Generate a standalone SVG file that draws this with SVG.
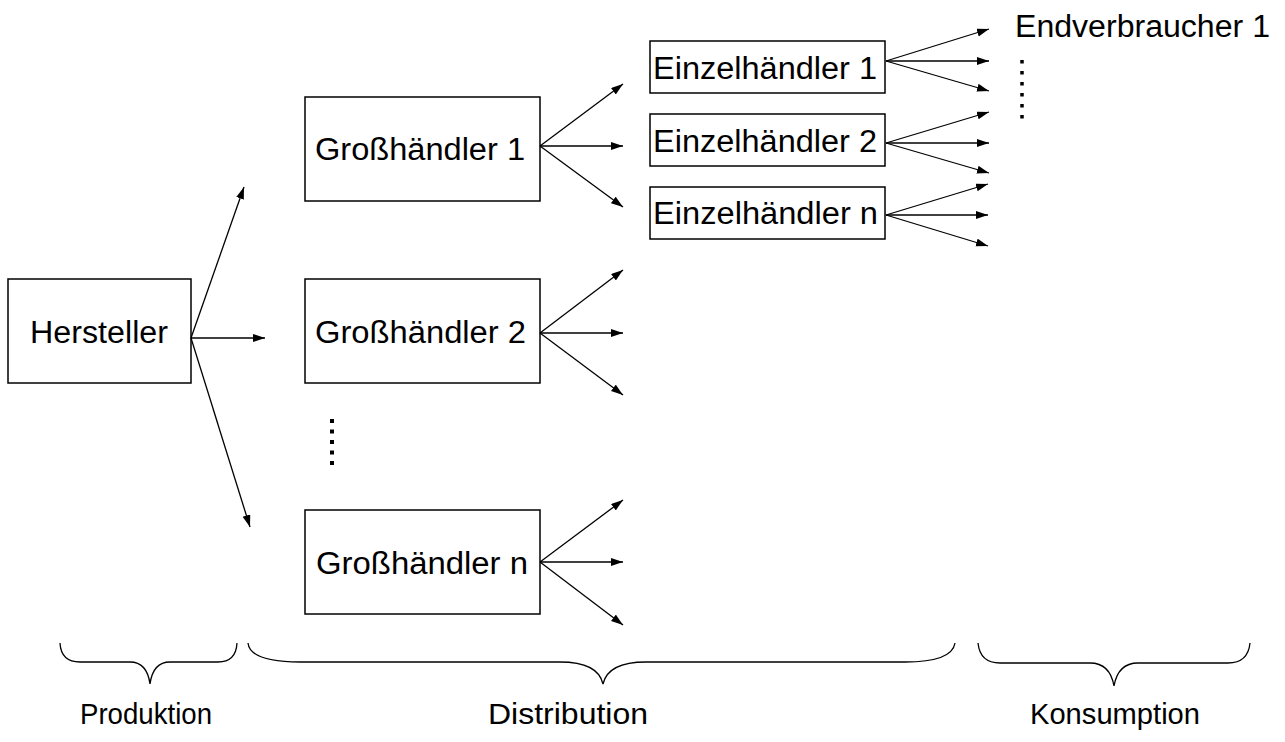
<svg xmlns="http://www.w3.org/2000/svg" width="1285" height="742" viewBox="0 0 1285 742">
  <style>
    .box { fill: #fff; stroke: #000; stroke-width: 1.5; }
    .lbl { font-family: "Liberation Sans", Arial, sans-serif; font-size: 31px; fill: #000; }
    .cap { font-family: "Liberation Sans", Arial, sans-serif; font-size: 30px; fill: #000; }
    .arr { stroke: #000; stroke-width: 1.3; fill: none; marker-end: url(#head); }
    .brace { stroke: #000; stroke-width: 1.3; fill: none; }
    .dots { stroke: #000; fill: none; }
  </style>
  <defs>
    <marker id="head" markerUnits="userSpaceOnUse" markerWidth="13" markerHeight="9" refX="12" refY="4" orient="auto">
      <path d="M0,0 L12,4 L0,8 z" fill="#000"/>
    </marker>
  </defs>

  <rect width="1285" height="742" fill="#fff"/>

  <!-- production -->
  <g id="hersteller">
    <rect class="box" x="8" y="279" width="183" height="104"/>
    <text class="lbl" x="30" y="343" textLength="138" lengthAdjust="spacingAndGlyphs">Hersteller</text>
  </g>

  <!-- wholesale level -->
  <g id="grosshaendler-1">
    <rect class="box" x="305" y="97" width="235" height="104"/>
    <text class="lbl" x="315" y="160" textLength="210" lengthAdjust="spacingAndGlyphs">Großhändler 1</text>
  </g>
  <g id="grosshaendler-2">
    <rect class="box" x="305" y="279" width="235" height="104"/>
    <text class="lbl" x="315" y="343" textLength="211" lengthAdjust="spacingAndGlyphs">Großhändler 2</text>
  </g>
  <g id="grosshaendler-n">
    <rect class="box" x="305" y="510" width="235" height="104"/>
    <text class="lbl" x="316" y="574" textLength="212" lengthAdjust="spacingAndGlyphs">Großhändler n</text>
  </g>
  <line id="grosshaendler-dots" class="dots" x1="332" y1="419" x2="332" y2="465" stroke-width="4" stroke-dasharray="4 6.5"/>

  <!-- retail level -->
  <g id="einzelhaendler-1">
    <rect class="box" x="650" y="41" width="235" height="52"/>
    <text class="lbl" x="653" y="79" textLength="224" lengthAdjust="spacingAndGlyphs">Einzelhändler 1</text>
  </g>
  <g id="einzelhaendler-2">
    <rect class="box" x="650" y="114" width="235" height="52"/>
    <text class="lbl" x="653" y="152" textLength="224" lengthAdjust="spacingAndGlyphs">Einzelhändler 2</text>
  </g>
  <g id="einzelhaendler-n">
    <rect class="box" x="650" y="187" width="235" height="52"/>
    <text class="lbl" x="653" y="224" textLength="225" lengthAdjust="spacingAndGlyphs">Einzelhändler n</text>
  </g>

  <!-- consumers -->
  <g id="endverbraucher">
    <text class="lbl" x="1015" y="37" textLength="255" lengthAdjust="spacingAndGlyphs">Endverbraucher 1</text>
    <line class="dots" x1="1022" y1="60" x2="1022" y2="120" stroke-width="3.5" stroke-dasharray="3.5 7.5"/>
  </g>

  <!-- flow arrows -->
  <g id="connectors">
    <line class="arr" x1="191" y1="338" x2="244" y2="187"/>
    <line class="arr" x1="191" y1="338" x2="265" y2="338"/>
    <line class="arr" x1="191" y1="338" x2="250" y2="527"/>

    <line class="arr" x1="540" y1="146" x2="623" y2="84"/>
    <line class="arr" x1="540" y1="146" x2="623" y2="146"/>
    <line class="arr" x1="540" y1="146" x2="623" y2="207"/>

    <line class="arr" x1="540" y1="333" x2="623" y2="270"/>
    <line class="arr" x1="540" y1="333" x2="623" y2="333"/>
    <line class="arr" x1="540" y1="333" x2="623" y2="395"/>

    <line class="arr" x1="540" y1="562" x2="623" y2="500"/>
    <line class="arr" x1="540" y1="562" x2="623" y2="562"/>
    <line class="arr" x1="540" y1="562" x2="623" y2="625"/>

    <line class="arr" x1="886" y1="61" x2="989" y2="29"/>
    <line class="arr" x1="886" y1="61" x2="989" y2="61"/>
    <line class="arr" x1="886" y1="61" x2="989" y2="91"/>

    <line class="arr" x1="886" y1="143" x2="989" y2="112"/>
    <line class="arr" x1="886" y1="143" x2="989" y2="143"/>
    <line class="arr" x1="886" y1="143" x2="989" y2="173"/>

    <line class="arr" x1="886" y1="215" x2="988" y2="184"/>
    <line class="arr" x1="886" y1="215" x2="988" y2="215"/>
    <line class="arr" x1="886" y1="215" x2="988" y2="246"/>
  </g>

  <!-- stage braces -->
  <g id="stages">
    <path class="brace" d="M60,643 Q61,662 80,662 L130,662 Q147,662 150,684 Q153,662 170,662 L218,662 Q236,662 237,643"/>
    <path class="brace" d="M248,643 Q250,662 300,662 L560,662 Q598,662 603,684 Q608,662 646,662 L905,662 Q952,662 955,643"/>
    <path class="brace" d="M978,643 Q980,663 1000,663 L1090,663 Q1110,663 1114,686 Q1118,663 1138,663 L1228,663 Q1248,663 1250,643"/>
    <text class="cap" x="80" y="724" textLength="132" lengthAdjust="spacingAndGlyphs">Produktion</text>
    <text class="cap" x="488" y="724" textLength="160" lengthAdjust="spacingAndGlyphs">Distribution</text>
    <text class="cap" x="1030" y="724" textLength="170" lengthAdjust="spacingAndGlyphs">Konsumption</text>
  </g>
</svg>
